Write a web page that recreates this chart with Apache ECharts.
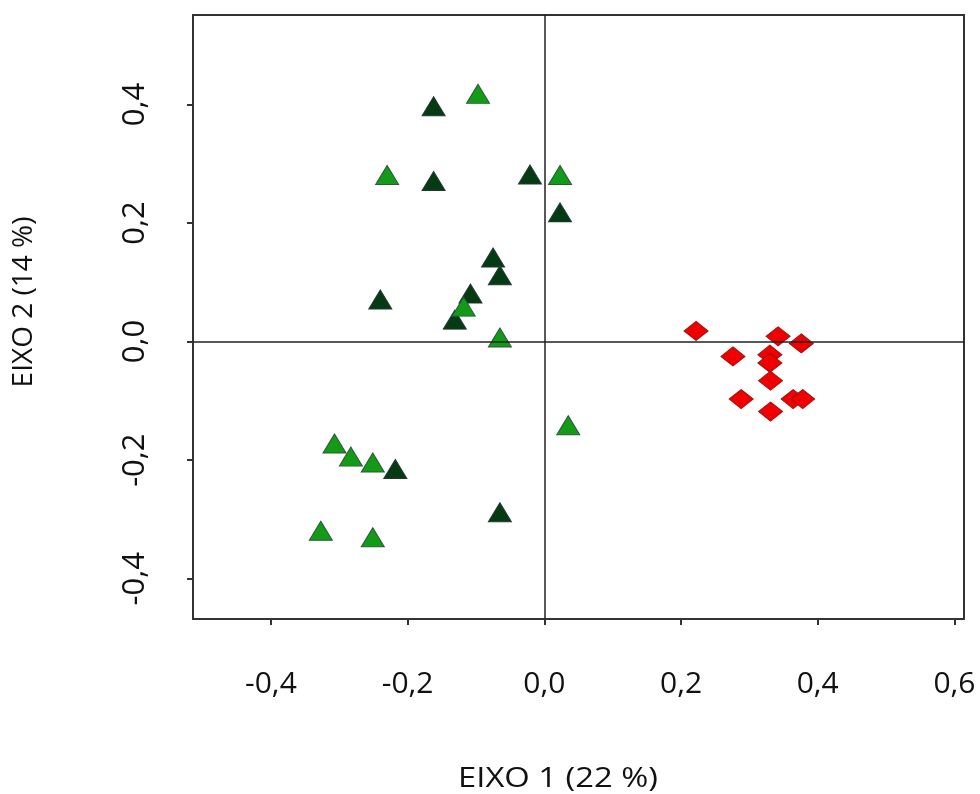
<!DOCTYPE html>
<html>
<head>
<meta charset="utf-8">
<script src="https://cdn.jsdelivr.net/npm/echarts@6/dist/echarts.min.js"></script>
<style>
html,body{margin:0;padding:0;background:#fff;}
#chart{width:980px;height:794px;}
</style>
</head>
<body>
<div id="chart"></div>
<script>
// Axis ticks
var xTicks = [-0.4, -0.2, 0.0, 0.2, 0.4, 0.6];
var yTicks = [-0.4, -0.2, 0.0, 0.2, 0.4];
var xTitle = 'EIXO 1 (22 %)';
var yTitle = 'EIXO 2 (14 %)';

// Dark green triangles [x, y]
var darkGreen = [
  [-0.162, 0.397], [-0.162, 0.271], [-0.021, 0.282], [0.023, 0.218],
  [-0.075, 0.142], [-0.065, 0.112], [-0.240, 0.071], [-0.108, 0.081],
  [-0.131, 0.037], [-0.218, -0.215], [-0.065, -0.288]
];
// Light green triangles [x, y]
var lightGreen = [
  [-0.097, 0.418], [-0.230, 0.281], [0.023, 0.281], [-0.118, 0.059],
  [-0.065, 0.007], [0.035, -0.141], [-0.307, -0.172], [-0.283, -0.194],
  [-0.251, -0.204], [-0.327, -0.319], [-0.251, -0.330]
];
// Red diamonds [x, y]
var redPoints = [
  [0.222, 0.018], [0.342, 0.009], [0.376, -0.003], [0.276, -0.025],
  [0.330, -0.022], [0.330, -0.036], [0.331, -0.066], [0.288, -0.097],
  [0.364, -0.097], [0.378, -0.097], [0.331, -0.118]
];

function fmt(v) { return v.toFixed(1).replace('.', ','); }

var chart = echarts.init(document.getElementById('chart'), null, {renderer: 'canvas'});
var FONT = '"Open Sans", sans-serif';
chart.setOption({
  animation: false,
  backgroundColor: '#ffffff',
  grid: {
    left: 193, right: 16, top: 15, bottom: 175,
    show: true, borderColor: '#333', borderWidth: 2, backgroundColor: 'transparent'
  },
  xAxis: {
    type: 'value', min: -0.514, max: 0.614,
    splitLine: {show: false},
    axisLine: {onZero: false, lineStyle: {color: '#333', width: 2}},
    axisTick: {show: true, customValues: xTicks, length: 6, lineStyle: {color: '#333', width: 2}},
    axisLabel: {customValues: xTicks, formatter: fmt, margin: 50, color: '#111',
                fontSize: 30, fontFamily: FONT}
  },
  yAxis: {
    type: 'value', min: -0.468, max: 0.551,
    splitLine: {show: false},
    axisLine: {onZero: false, lineStyle: {color: '#333', width: 2}},
    axisTick: {show: true, customValues: yTicks, length: 6, lineStyle: {color: '#333', width: 2}},
    axisLabel: {customValues: yTicks, formatter: fmt, rotate: 90, margin: 42, color: '#111',
                fontSize: 31, fontFamily: FONT}
  },
  graphic: [
    {type: 'text', x: 558, y: 779, scaleX: 1.17,
     style: {text: xTitle, font: '28px ' + FONT, fill: '#111', textAlign: 'center', textVerticalAlign: 'middle'}},
    {type: 'text', x: 24, y: 302, rotation: Math.PI / 2,
     style: {text: yTitle, font: '28px ' + FONT, fill: '#111', textAlign: 'center', textVerticalAlign: 'middle'}}
  ],
  series: [
    {
      type: 'scatter', name: 'lines', data: [], silent: true,
      markLine: {
        silent: true, symbol: 'none', label: {show: false},
        lineStyle: {color: '#222', width: 1.5, type: 'solid'},
        data: [{xAxis: 0}, {yAxis: 0}]
      }
    },
    {
      type: 'scatter', name: 'dark', data: darkGreen, symbol: 'triangle', symbolSize: [23, 19],
      itemStyle: {color: '#053a12', borderColor: '#203a30', borderWidth: 1, opacity: 1}
    },
    {
      type: 'scatter', name: 'light', data: lightGreen, symbol: 'triangle', symbolSize: [23, 19],
      itemStyle: {color: '#139a16', borderColor: '#2a5a3a', borderWidth: 1, opacity: 1}
    },
    {
      type: 'scatter', name: 'red', data: redPoints, symbol: 'diamond', symbolSize: [24, 19],
      itemStyle: {color: '#f00000', borderColor: '#a01010', borderWidth: 1, opacity: 1}
    }
  ]
});
</script>
</body>
</html>
